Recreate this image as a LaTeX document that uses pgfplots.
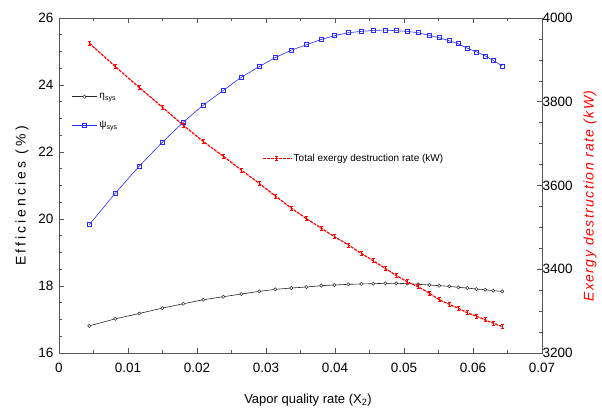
\documentclass[border=0pt]{standalone}
\usepackage{pgfplots}
\pgfplotsset{compat=1.18}
\usepackage{pgfplotstable}
\usepackage{fontspec}
\setmainfont{Liberation Sans}
\newfontfamily\spacedA{Liberation Sans}[LetterSpace=22]
\newfontfamily\spacedB{Liberation Sans}[LetterSpace=10]
\definecolor{myblue}{RGB}{40,40,255}
\definecolor{myred}{RGB}{255,0,0}
\definecolor{axgray}{RGB}{85,85,85}
\pgfdeclareplotmark{ibar}{%
  \pgfsetlinewidth{0.9pt}%
  \pgfpathmoveto{\pgfqpoint{-1.6pt}{2pt}}\pgfpathlineto{\pgfqpoint{1.6pt}{2pt}}%
  \pgfpathmoveto{\pgfqpoint{-1.6pt}{-2pt}}\pgfpathlineto{\pgfqpoint{1.6pt}{-2pt}}%
  \pgfpathmoveto{\pgfqpoint{0pt}{-2pt}}\pgfpathlineto{\pgfqpoint{0pt}{2pt}}%
  \pgfusepathqstroke}
\pgfplotstableread{
x eta psi ed
0.00439 16.81 19.83 3940
0.00816 17.02 20.77 3884
0.01164 17.18 21.58 3834
0.01497 17.34 22.29 3787
0.01801 17.47 22.89 3744
0.02091 17.59 23.40 3705
0.02381 17.68 23.84 3670
0.02642 17.76 24.23 3637
0.02903 17.84 24.55 3605
0.03135 17.90 24.82 3575
0.03367 17.94 25.04 3546
0.03584 17.97 25.20 3521
0.03801 18.01 25.36 3498
0.03990 18.03 25.47 3478
0.04193 18.05 25.56 3458
0.04381 18.06 25.60 3438
0.04555 18.07 25.63 3420
0.04729 18.08 25.64 3402
0.04888 18.08 25.62 3385
0.05048 18.07 25.60 3370
0.05207 18.05 25.56 3358
0.05367 18.03 25.48 3343
0.05512 18.01 25.41 3327
0.05657 17.99 25.32 3316
0.05787 17.96 25.23 3307
0.05917 17.94 25.10 3296
0.06048 17.91 24.99 3288
0.06178 17.89 24.87 3279
0.06294 17.86 24.73 3271
0.06424 17.84 24.57 3263
}\datatable
\pgfplotsset{
  every axis/.append style={
    scale only axis, width=483pt, height=335pt,
    xmin=0, xmax=0.07, scaled x ticks=false, scaled y ticks=false,
    axis line style={axgray, line width=0.8pt},
    every tick/.style={axgray, line width=0.6pt},
    major tick length=5pt, minor tick length=3pt,
    tick align=inside,
    tick label style={font=\fontsize{13.5}{13.5}\selectfont, /pgf/number format/assume math mode=true, /pgf/number format/1000 sep={}},
  },
}
\begin{document}
\begin{tikzpicture}
\begin{axis}[
  ymin=16, ymax=26,
  ytick={16,18,20,22,24,26},
  minor y tick num=3,
  xtick={0,0.01,0.02,0.03,0.04,0.05,0.06,0.07},
  xticklabels={0,0.01,0.02,0.03,0.04,0.05,0.06,0.07},
  minor x tick num=1,
  xtick pos=both, ytick pos=left,
  xticklabel style={yshift=-7pt},
  yticklabel style={xshift=-2pt},
  xlabel={Vapor quality rate (X\textsubscript{2})},
  xlabel style={font=\fontsize{13}{13}\selectfont, at={(axis description cs:0.5155,-0.140)}, anchor=center},
  ylabel={\spacedA Efficiencies (\%)},
  ylabel style={font=\fontsize{14}{14}\selectfont, at={(axis description cs:-0.0766,0.469)}, anchor=center},
  legend style={at={(0.025,0.782)}, anchor=north west, draw=none, fill=none,
    font=\fontsize{10}{10}\selectfont, row sep=17pt, inner sep=0pt},
  legend cell align=left,
  legend image code/.code={\draw[mark repeat=2,mark phase=2] plot coordinates {(0cm,0cm) (0.45cm,0cm) (0.9cm,0cm)};},
]
\addplot[black!85, line width=0.6pt, mark=*, mark size=1.6pt, mark options={solid, fill=white, line width=0.5pt}] table[x=x,y=eta] {\datatable};
\addlegendentry{η\textsubscript{sys}}
\addplot[myblue, line width=0.6pt, mark=square, mark size=2pt, mark options={solid, line width=0.6pt}] table[x=x,y=psi] {\datatable};
\addlegendentry{ψ\textsubscript{sys}}
\end{axis}
\begin{axis}[
  ymin=3200, ymax=4000,
  ytick={3200,3400,3600,3800,4000},
  minor y tick num=3,
  axis y line*=right, hide x axis,
  yticklabel style={xshift=-3pt},
  ylabel={\spacedB Exergy destruction rate (kW)},
  ylabel style={font=\fontsize{14}{14}\selectfont\itshape, color=myred, at={(axis description cs:1.0994,0.469)}, anchor=center},
  legend style={at={(0.42,0.58)}, anchor=west, draw=none, fill=none,
    font=\fontsize{10}{10}\selectfont, inner sep=0pt},
  legend image code/.code={\draw[mark repeat=2,mark phase=2] plot coordinates {(0cm,0cm) (0.5cm,0cm) (1.0cm,0cm)};},
]
\addplot[myred, line width=1.2pt, dash pattern=on 3pt off 1pt, mark=ibar, mark options={solid}] table[x=x,y=ed] {\datatable};
\addlegendentry{Total exergy destruction rate (kW)}
\end{axis}
\pgfresetboundingbox
\path[use as bounding box] ([xshift=-59pt,yshift=-62pt]current axis.south west) rectangle ([xshift=60pt,yshift=18pt]current axis.north east);
\end{tikzpicture}
\end{document}
